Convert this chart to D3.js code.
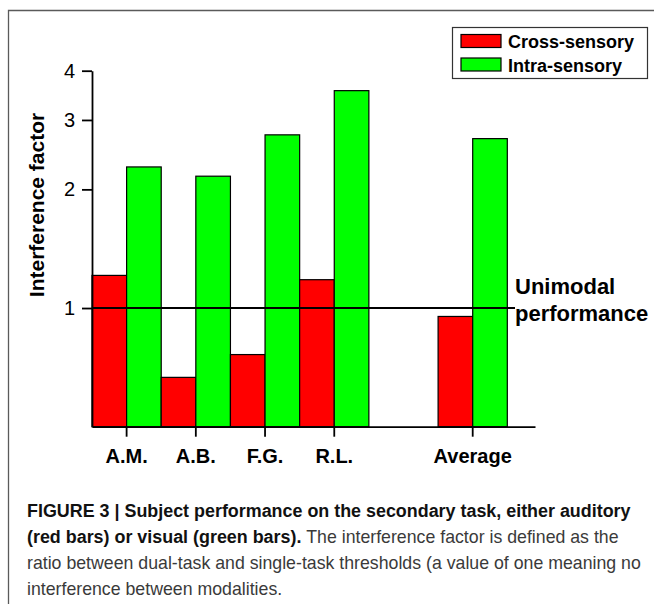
<!DOCTYPE html>
<html>
<head>
<meta charset="utf-8">
<script src="https://cdn.jsdelivr.net/npm/d3@7"></script>
<style>
  html, body { margin: 0; padding: 0; background: #fff; }
  svg { display: block; }
</style>
</head>
<body>
<svg id="chart" width="654" height="604"></svg>
<script>
// ---- Data ----
const categories = ["A.M.", "A.B.", "F.G.", "R.L.", "Average"];
const slots = ["A.M.", "A.B.", "F.G.", "R.L.", "_gap_", "Average"];
const crossSensory = [1.21, 0.667, 0.762, 1.18, 0.952];
const intraSensory = [2.28, 2.16, 2.75, 3.56, 2.69];
const yTicks = [1, 2, 3, 4];
const seriesNames = ["Cross-sensory", "Intra-sensory"];
const seriesColors = ["#ff0000", "#00ff00"];
const refValue = 1;
const refLabel = ["Unimodal", "performance"];
const yTitle = "Interference factor";

const svg = d3.select("#chart");
const W = 654, H = 604;

// Frame
svg.append("path")
  .attr("d", `M8.5,${H} L8.5,10.5 L${W},10.5`)
  .attr("fill", "none").attr("stroke", "#5a5a5a").attr("stroke-width", 1.3);

// Scales
const x = d3.scaleBand().domain(slots).range([92, 535])
  .paddingInner(0).paddingOuter(0.2).align(0);
const y = d3.scaleLog().domain([0.5, 4]).range([426.7, 70.7]);
const bw = x.bandwidth() / 2;

const data = categories.map((c, i) => ({ c, v: [crossSensory[i], intraSensory[i]] }));

// Bars
const g = svg.append("g");
data.forEach(d => {
  d.v.forEach((v, k) => {
    g.append("rect")
      .attr("x", x(d.c) + k * bw)
      .attr("y", y(v))
      .attr("width", bw)
      .attr("height", y(0.5) - y(v))
      .attr("fill", seriesColors[k])
      .attr("stroke", "#000")
      .attr("stroke-width", 1.2);
  });
});

// Reference line
svg.append("line")
  .attr("x1", 92).attr("x2", 515)
  .attr("y1", y(refValue)).attr("y2", y(refValue))
  .attr("stroke", "#000").attr("stroke-width", 2);

// Axes
const yAxis = svg.append("g").attr("transform", "translate(92,0)")
  .call(d3.axisLeft(y).tickValues(yTicks).tickFormat(d3.format("d")).tickSize(10).tickSizeOuter(0).tickPadding(7));
yAxis.selectAll("path,line").attr("stroke", "#000").attr("stroke-width", 1.8);
yAxis.selectAll("text").attr("font-family", "Liberation Sans, Arial, sans-serif")
  .attr("font-size", 20).attr("fill", "#000");

const xAxis = svg.append("g").attr("transform", `translate(0,${y(0.5)})`)
  .call(d3.axisBottom(x).tickValues(categories).tickSize(10).tickSizeOuter(0).tickPadding(12));
xAxis.selectAll("path,line").attr("stroke", "#000").attr("stroke-width", 1.8);
xAxis.selectAll("text").attr("font-family", "Liberation Sans, Arial, sans-serif")
  .attr("font-size", 20).attr("font-weight", "bold").attr("fill", "#000");

// Y title
svg.append("text")
  .attr("transform", "translate(44,205) rotate(-90)")
  .attr("text-anchor", "middle")
  .attr("font-family", "Liberation Sans, Arial, sans-serif")
  .attr("font-size", 21).attr("font-weight", "bold")
  .text(yTitle);

// Unimodal label
svg.append("text").attr("x", 515).attr("y", 293.5)
  .attr("font-family", "Liberation Sans, Arial, sans-serif")
  .attr("font-size", 22).attr("font-weight", "bold").text(refLabel[0]);
svg.append("text").attr("x", 515).attr("y", 320.5)
  .attr("font-family", "Liberation Sans, Arial, sans-serif")
  .attr("font-size", 22).attr("font-weight", "bold").text(refLabel[1]);

// Legend
const lg = svg.append("g");
lg.append("rect").attr("x", 452.5).attr("y", 27.5).attr("width", 195).attr("height", 51)
  .attr("fill", "#fff").attr("stroke", "#333").attr("stroke-width", 1.2);
seriesNames.forEach((n, i) => {
  lg.append("rect").attr("x", 461).attr("y", 34.5 + i * 23.5).attr("width", 40).attr("height", 13)
    .attr("fill", seriesColors[i]).attr("stroke", "#000").attr("stroke-width", 1.2);
  lg.append("text").attr("x", 508).attr("y", 48 + i * 23.5)
    .attr("font-family", "Liberation Sans, Arial, sans-serif")
    .attr("font-size", 18).attr("font-weight", "bold").text(n);
});

// Caption
const capFont = "'Liberation Sans', Arial, sans-serif";
const capLines = [
  [["FIGURE 3 | Subject performance on the secondary task, either auditory", true]],
  [["(red bars) or visual (green bars).", true], [" The interference factor is defined as the", false]],
  [["ratio between dual-task and single-task thresholds (a value of one meaning no", false]],
  [["interference between modalities.", false]]
];
function mk(txt, bold) {
  return svg.append("text")
    .attr("font-family", capFont).attr("font-size", 18)
    .attr("font-weight", bold ? "bold" : "normal")
    .attr("fill", bold ? "#111" : "#3a3a3a")
    .attr("xml:space", "preserve").text(txt);
}
// horizontal condensation from full-width lines
const probeB = mk(capLines[0][0][0], true);
const sB = 604 / probeB.node().getComputedTextLength(); probeB.remove();
const probeN = mk(capLines[2][0][0], false);
const sN = 614 / probeN.node().getComputedTextLength(); probeN.remove();
capLines.forEach((parts, i) => {
  let cx = 27;
  parts.forEach(p => {
    const t = mk(p[0], p[1]);
    const s = p[1] ? sB : sN;
    const len = t.node().getComputedTextLength() * s;
    t.attr("transform", `translate(${cx},${516.5 + i * 26}) scale(${s},1)`);
    cx += len;
  });
});
</script>
</body>
</html>
